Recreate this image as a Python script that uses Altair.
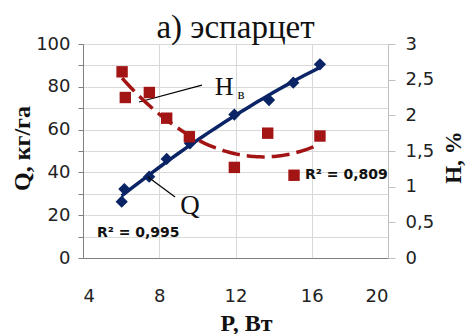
import altair as alt
import pandas as pd

# ---- data ----
P_q = [6.03, 6.17, 7.47, 8.39, 9.61, 11.94, 13.76, 15.03, 16.43]
Q_vals = [26.3, 32.2, 38.0, 46.3, 53.6, 67.0, 73.8, 81.9, 90.5]
P_h = [6.05, 6.22, 7.48, 8.39, 9.58, 11.94, 13.69, 15.07, 16.43]
H_vals = [2.61, 2.25, 2.32, 1.96, 1.70, 1.27, 1.75, 1.16, 1.71]

x_ticks = [4, 8, 12, 16, 20]
q_ticks = [0, 10, 20, 30, 40, 50, 60, 70, 80, 90, 100]
h_ticks = [0, 0.5, 1, 1.5, 2, 2.5, 3]

r2_labels = ["R² = 0,995", "R² = 0,809"]
r2_P = [4.73, 15.65]
r2_Q = [11.7, 38.8]

name_labels = ["H", "в", "Q"]
name_P = [11.4, 12.29, 9.61]
name_Q = [79.9, 76.8, 24.3]
name_size = [26, 15, 27]

lead_P = [6.94, 7.41]
lead_Q = [72.9, 37.9]
lead_P2 = [10.24, 8.83]
lead_Q2 = [80.8, 28.5]

BLUE = "#0a2466"
RED = "#a31414"
SERIF = "Liberation Serif"
SANS = "DejaVu Sans"

df_q = pd.DataFrame({"P": P_q, "Q": Q_vals})
df_h = pd.DataFrame({"P": P_h, "H": H_vals})
df_r2 = pd.DataFrame({"P": r2_P, "Q": r2_Q, "t": r2_labels})
df_names = pd.DataFrame({"P": name_P, "Q": name_Q, "t": name_labels, "s": name_size})
df_lead = pd.DataFrame({"P": lead_P, "Q": lead_Q, "P2": lead_P2, "Q2": lead_Q2})

x_axis = alt.Axis(values=x_ticks, title="P, Вт", grid=True, gridColor="#d9d9d9",
                  tickSize=0, labelPadding=29, domainColor="#808080",
                  labelFont=SANS, labelFontSize=18, labelColor="#222",
                  titleFont=SERIF, titleFontSize=24, titleFontWeight="bold",
                  titleColor="#111", titleX=163, titleY=72, titleBaseline="alphabetic")
X = alt.X("P:Q", scale=alt.Scale(domain=[4, 20], nice=False), axis=x_axis)

q_axis = alt.Axis(values=q_ticks, labelExpr="datum.value % 20 == 0 ? datum.label : ''",
                  title="Q, кг/га", grid=True, gridColor="#d9d9d9", tickSize=5,
                  tickColor="#808080", domainColor="#808080", labelPadding=8,
                  labelFont=SANS, labelFontSize=18, labelColor="#222",
                  titleFont=SERIF, titleFontSize=24, titleFontWeight="bold",
                  titleColor="#111", titleAngle=-90, titleX=-61, titleY=104,
                  titleBaseline="middle")
YQ = alt.Y("Q:Q", scale=alt.Scale(domain=[0, 100], nice=False), axis=q_axis)

h_axis = alt.Axis(orient="right", values=h_ticks, format="~g",
                  labelExpr="replace(datum.label, '.', ',')",
                  title="H, %", grid=False, tickSize=7, tickColor="#bfbfbf",
                  domainColor="#bfbfbf", labelPadding=10,
                  labelFont=SANS, labelFontSize=18, labelColor="#222",
                  titleFont=SERIF, titleFontSize=23, titleFontWeight="bold",
                  titleColor="#111", titleAngle=-90, titleX=65, titleY=113,
                  titleBaseline="middle")
YH = alt.Y("H:Q", scale=alt.Scale(domain=[0, 3], nice=False), axis=h_axis)

q_trend = alt.Chart(df_q).transform_regression(
    "P", "Q", method="poly", order=2
).mark_line(color=BLUE, strokeWidth=3.5).encode(x=X, y=YQ)
q_pts = alt.Chart(df_q).mark_point(shape="diamond", filled=True, size=150,
                                    color=BLUE, opacity=1).encode(x=X, y=YQ)
leads = alt.Chart(df_lead).mark_rule(color="black", strokeWidth=1.2).encode(
    x=X, y=YQ, x2="P2:Q", y2="Q2:Q")
r2 = alt.Chart(df_r2).mark_text(align="left", baseline="middle", font=SANS,
                                fontSize=14, fontWeight="bold", color="#111").encode(
    x=X, y=YQ, text="t:N")
names = alt.Chart(df_names).mark_text(align="center", baseline="middle", font=SERIF,
                                      color="#111").encode(
    x=X, y=YQ, text="t:N", size=alt.Size("s:Q", scale=None, legend=None))

q_layer = alt.layer(q_trend, q_pts, leads, r2, names)

h_trend = alt.Chart(df_h).transform_regression(
    "P", "H", method="poly", order=2
).mark_line(color=RED, strokeWidth=3.5, strokeDash=[18, 7]).encode(x=X, y=YH)
h_pts = alt.Chart(df_h).mark_square(size=130, color=RED, opacity=1).encode(x=X, y=YH)
h_layer = alt.layer(h_trend, h_pts)

chart = alt.layer(q_layer, h_layer).resolve_scale(y="independent").properties(
    width=305, height=214,
    title=alt.TitleParams("а) эспарцет", font=SERIF, fontSize=33, fontWeight="normal",
                          anchor="middle", color="#111", offset=-10),
    padding={"left": 83, "top": 44, "right": 78, "bottom": 76},
    autosize=alt.AutoSizeParams(type="none"),
    background="white",
).configure_view(stroke=None)

chart.save("out.html", embed_options={"renderer": "svg", "actions": False})
